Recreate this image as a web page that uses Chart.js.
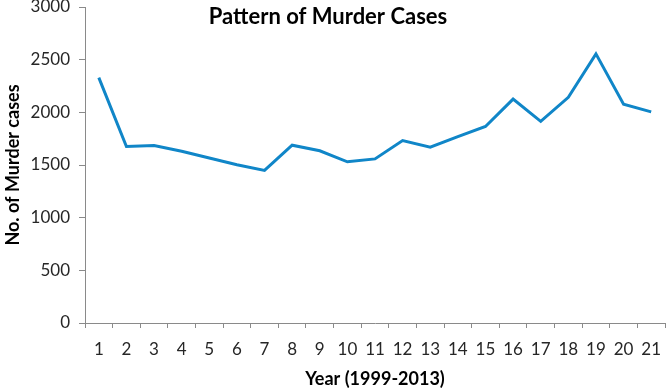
<!DOCTYPE html>
<html lang="en">
<head>
    <meta charset="UTF-8">
    <title>Pattern of Murder Cases</title>
    <script src="https://cdn.jsdelivr.net/npm/chart.js"></script>
    <style>
        body { margin: 0; background: #fff; }
    </style>
</head>
<body>
    <canvas id="murderChart" width="667" height="390"></canvas>
    <script>
        // データ
        const years = ['1', '2', '3', '4', '5', '6', '7', '8', '9', '10', '11', '12', '13', '14', '15', '16', '17', '18', '19', '20', '21'];
        const murderCases = [2330, 1676, 1685, 1630, 1566, 1502, 1448, 1688, 1635, 1530, 1558, 1732, 1670, 1770, 1866, 2126, 1914, 2142, 2555, 2078, 2004];
        const yTicks = [0, 500, 1000, 1500, 2000, 2500, 3000];

        const axisColor = '#8a8a8a';
        const textColor = '#262626';
        const fontFamily = 'Lato, "Open Sans", sans-serif';

        // タイトルはプロット領域の中に描く
        const innerTitle = {
            id: 'innerTitle',
            afterDraw(chart) {
                const ctx = chart.ctx;
                ctx.save();
                ctx.font = 'bold 22px ' + fontFamily;
                ctx.fillStyle = '#000';
                ctx.textAlign = 'center';
                ctx.textBaseline = 'middle';
                ctx.fillText('Pattern of Murder Cases', 328, 17);
                ctx.restore();
            }
        };

        const ctx = document.getElementById('murderChart').getContext('2d');
        new Chart(ctx, {
            type: 'line',
            data: {
                labels: years,
                datasets: [{
                    label: 'Murder cases',
                    data: murderCases,
                    borderColor: '#1086c8',
                    borderWidth: 3,
                    pointRadius: 0,
                    tension: 0,
                    fill: false
                }]
            },
            options: {
                responsive: false,
                animation: false,
                devicePixelRatio: 1,
                layout: { padding: { top: 7, right: 2, left: 0, bottom: 0 } },
                plugins: {
                    legend: { display: false },
                    tooltip: { enabled: false }
                },
                scales: {
                    x: {
                        offset: true,
                        grid: {
                            offset: true,
                            drawOnChartArea: false,
                            drawTicks: true,
                            tickLength: 5,
                            color: axisColor
                        },
                        border: { color: axisColor, width: 1 },
                        ticks: {
                            color: textColor,
                            font: { family: fontFamily, size: 17 },
                            padding: 11,
                            maxRotation: 0,
                            autoSkip: false
                        },
                        title: {
                            display: true,
                            text: 'Year (1999-2013)',
                            color: '#000',
                            font: { family: fontFamily, size: 18, weight: 'bold' },
                            padding: { top: 4, bottom: 0 }
                        },
                        afterFit(scale) {
                            scale.height = 67;
                            scale.paddingLeft = 0;
                            scale.paddingRight = 0;
                        }
                    },
                    y: {
                        min: 0,
                        max: 3000,
                        afterBuildTicks(scale) {
                            scale.ticks = yTicks.map(v => ({ value: v }));
                        },
                        grid: {
                            drawOnChartArea: false,
                            drawTicks: true,
                            tickLength: 6,
                            color: axisColor
                        },
                        border: { color: axisColor, width: 1 },
                        ticks: {
                            color: textColor,
                            font: { family: fontFamily, size: 17 },
                            padding: 9,
                            callback: v => String(v)
                        },
                        title: {
                            display: true,
                            text: 'No. of Murder cases',
                            color: '#000',
                            font: { family: fontFamily, size: 18, weight: 'bold' },
                            padding: { top: 2, bottom: 4 }
                        },
                        afterFit(scale) {
                            scale.width = 85;
                            scale.paddingTop = 0;
                            scale.paddingBottom = 0;
                        }
                    }
                }
            },
            plugins: [innerTitle]
        });
    </script>
</body>
</html>
